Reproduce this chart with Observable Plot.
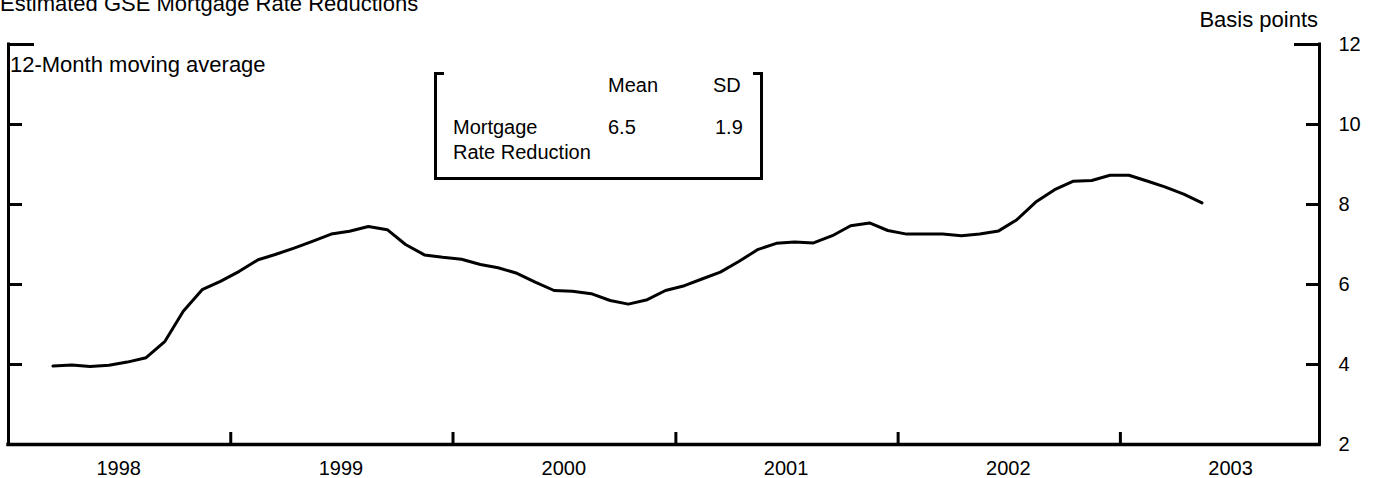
<!DOCTYPE html>
<html>
<head>
<meta charset="utf-8">
<script src="https://cdn.jsdelivr.net/npm/d3@7"></script>
<script src="https://cdn.jsdelivr.net/npm/@observablehq/plot@0.6"></script>
<style>
  html, body { margin: 0; padding: 0; background: #fff; }
  #wrap { position: relative; width: 1377px; height: 478px; overflow: hidden;
          font-family: "Liberation Sans", Arial, sans-serif; color: #000; }
  .t { position: absolute; line-height: 1; white-space: nowrap; }
  .box { position: absolute; border-left: 3px solid #000; border-right: 3px solid #000; border-bottom: 3px solid #000; box-sizing: border-box; }
  .serif { position: absolute; height: 3px; background: #000; }
</style>
</head>
<body>
<div id="wrap">
  <div id="chart"></div>
  <div class="t" style="left:0px; top:-7px; font-size:22px;">Estimated GSE Mortgage Rate Reductions</div>
  <div class="t" style="right:59px; top:9px; font-size:22px;">Basis points</div>
  <div class="t" style="left:10px; top:54px; font-size:22px;">12-Month moving average</div>
  <div class="box" style="left:434px; top:72px; width:329px; height:108px;"></div>
  <div class="serif" style="left:434px; top:72px; width:10px;"></div>
  <div class="serif" style="left:753px; top:72px; width:10px;"></div>
  <div class="t" style="left:608px; top:75px; font-size:20px;">Mean</div>
  <div class="t" style="left:713px; top:75px; font-size:20px;">SD</div>
  <div class="t" style="left:453px; top:117px; font-size:20px;">Mortgage</div>
  <div class="t" style="left:608px; top:117px; font-size:20px;">6.5</div>
  <div class="t" style="left:715px; top:117px; font-size:20px;">1.9</div>
  <div class="t" style="left:453px; top:142px; font-size:20px;">Rate Reduction</div>
</div>
<script>
// ---- Data (12-month moving average, basis points), monthly Mar 1998 – May 2003 ----
const values1998 = [3.96, 3.99, 3.95, 3.98, 4.06, 4.17, 4.58, 5.33, 5.87, 6.08]; // Mar–Dec
const values1999 = [6.33, 6.62, 6.75, 6.91, 7.08, 7.26, 7.33, 7.45, 7.37, 7.00, 6.74, 6.68];
const values2000 = [6.63, 6.50, 6.42, 6.28, 6.06, 5.85, 5.83, 5.77, 5.60, 5.51, 5.62, 5.85];
const values2001 = [5.97, 6.15, 6.31, 6.58, 6.87, 7.03, 7.06, 7.04, 7.22, 7.47, 7.54, 7.35];
const values2002 = [7.26, 7.26, 7.26, 7.22, 7.26, 7.34, 7.62, 8.06, 8.37, 8.58, 8.60, 8.73];
const values2003 = [8.73, 8.58, 8.44, 8.26, 8.04]; // Jan–May

const yearLabels = [1998, 1999, 2000, 2001, 2002, 2003];
const yearBoundaries = [1999, 2000, 2001, 2002, 2003];
const yTickValues = [4, 6, 8, 10];
const yLabelValues = [2, 4, 6, 8, 10, 12];

// ---- Build table ----
const allValues = [...values1998, ...values1999, ...values2000, ...values2001, ...values2002, ...values2003];
const monthStarts = d3.utcMonth.range(new Date(Date.UTC(1998, 2, 1)), new Date(Date.UTC(2003, 5, 1)));
const series = monthStarts.map((d, i) => ({date: d3.utcDay.offset(d, 14), value: allValues[i]}));

const W = 1377, H = 478;
const mL = 8, mR = 58, mT = 44, mB = 34;
const fw = W - mL - mR, fh = H - mT - mB;
const xStart = new Date(Date.UTC(1998, 0, 1));
const xEnd = new Date(Date.UTC(2003, 10, 24));

const chart = Plot.plot({
  width: W,
  height: H,
  marginLeft: mL,
  marginRight: mR,
  marginTop: mT,
  marginBottom: mB,
  style: {fontFamily: "Liberation Sans, Arial, sans-serif", background: "white", color: "black", overflow: "visible"},
  x: {type: "utc", domain: [xStart, xEnd], axis: null},
  y: {domain: [2, 12], axis: null},
  marks: [
    // frame: left, right, bottom
    Plot.ruleX([xStart, xEnd], {stroke: "black", strokeWidth: 3, strokeLinecap: "square"}),
    Plot.ruleY([2], {stroke: "black", strokeWidth: 3.5, strokeLinecap: "square"}),
    // left inner ticks
    Plot.ruleY(yTickValues, {stroke: "black", strokeWidth: 3, insetRight: fw - 14}),
    Plot.ruleY([12], {stroke: "black", strokeWidth: 3, insetRight: fw - 26}),
    // right inner ticks
    Plot.ruleY(yTickValues, {stroke: "black", strokeWidth: 3, insetLeft: fw - 13}),
    Plot.ruleY([12], {stroke: "black", strokeWidth: 3, insetLeft: fw - 25}),
    // bottom year-boundary ticks
    Plot.ruleX(yearBoundaries.map(y => new Date(Date.UTC(y, 0, 1))), {stroke: "black", strokeWidth: 3, insetTop: fh - 12}),
    // right axis labels
    Plot.text(yLabelValues, {y: d => d, text: d => String(d), frameAnchor: "right", dx: 19, textAnchor: "start", lineAnchor: "middle", fontSize: 20, fill: "black"}),
    // year labels
    Plot.text(yearLabels, {x: d => new Date(Date.UTC(d, 6, 1)), text: d => String(d), frameAnchor: "bottom", dy: 24, lineAnchor: "middle", fontSize: 20, fill: "black"}),
    // data line
    Plot.line(series, {x: "date", y: "value", stroke: "black", strokeWidth: 3, strokeLinejoin: "round"})
  ]
});
document.getElementById("chart").appendChild(chart);
</script>
</body>
</html>
